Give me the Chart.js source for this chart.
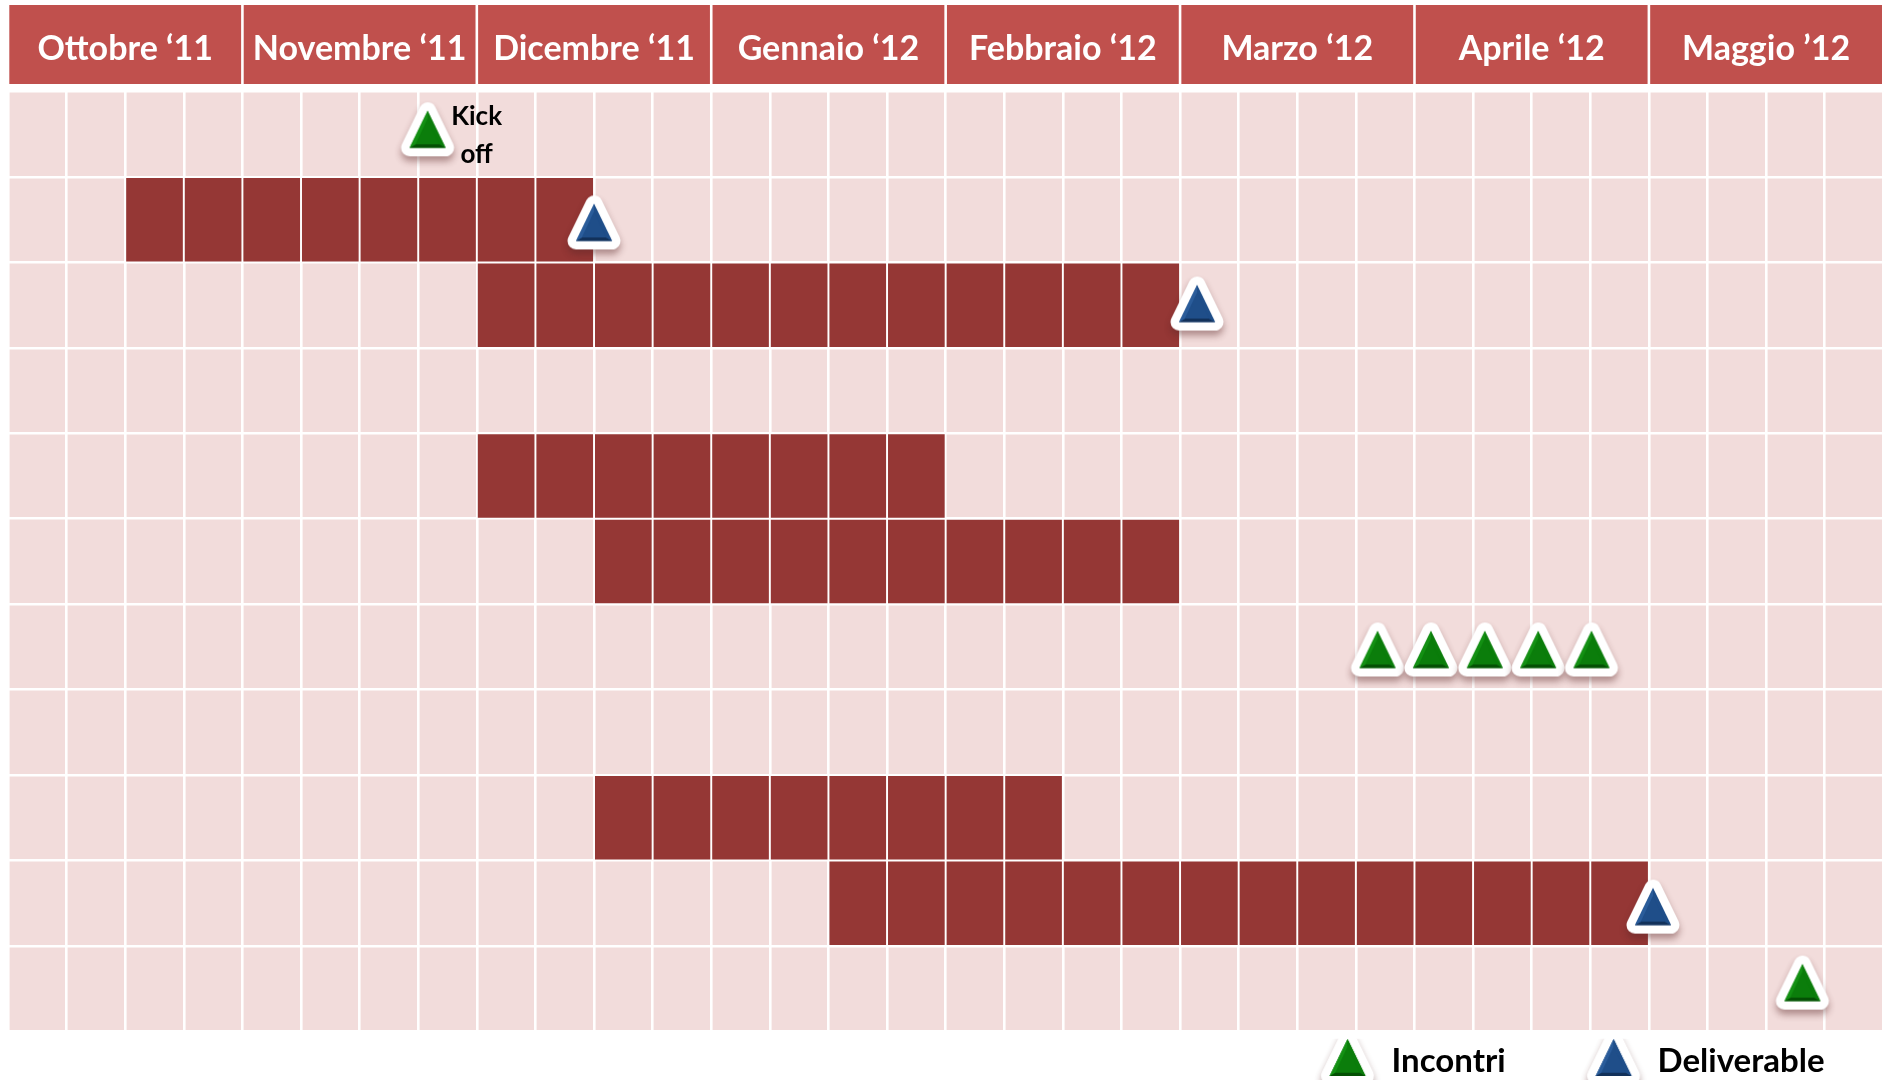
<!DOCTYPE html>
<html>
<head>
<meta charset="utf-8">
<title>Cronoprogramma</title>
<script src="https://cdn.jsdelivr.net/npm/chart.js@4.4.1/dist/chart.umd.min.js"></script>
<style>
  html, body { margin: 0; padding: 0; background: #fff; }
</style>
</head>
<body>
<canvas id="gantt" width="1885" height="1080"></canvas>
<script>
// header months, 4 weeks each
const monthLabels = ['Ottobre \u201811', 'Novembre \u201811', 'Dicembre \u201811', 'Gennaio \u201812',
                     'Febbraio \u201812', 'Marzo \u201812', 'Aprile \u201812', 'Maggio \u201912'];
const weeksPerMonth = 4;
const rowLabels = ['1', '2', '3', '4', '5', '6', '7', '8', '9', '10', '11'];

// activities: row, first week, week after the last one
const taskRow   = [1, 2, 4, 5, 8, 9];
const taskStart = [2, 8, 8, 10, 10, 14];
const taskEnd   = [10, 20, 16, 20, 18, 28];

// milestones (x = week, y = row)
const meetWeek  = [7.16, 23.37, 24.28, 25.2, 26.11, 27.02, 30.62];
const meetRow   = [-0.06, 6.03, 6.03, 6.03, 6.03, 6.03, 9.93];
const delivWeek = [10.0, 20.29, 28.07];
const delivRow  = [1.03, 1.98, 9.04];

const kickoffText = ['Kick', 'off'];

// triangle marker with white rim, shadow and a little bevel
function makeIcon(main, dark, light, w, shiftX, shiftY) {
    const c = document.createElement('canvas');
    c.width = w; c.height = 84;
    const g = c.getContext('2d');
    const cx = w / 2 + shiftX, cy = 42 + shiftY;
    const hw = 18, hh = 18.5;
    const tri = (a, b, d) => { g.beginPath(); g.moveTo(a[0], a[1]); g.lineTo(b[0], b[1]); g.lineTo(d[0], d[1]); g.closePath(); };
    const A = [cx, cy - hh], R = [cx + hw, cy + hh], L = [cx - hw, cy + hh];
    g.save();
    g.shadowColor = 'rgba(90,40,40,0.45)';
    g.shadowBlur = 7;
    g.shadowOffsetY = 5;
    g.lineJoin = 'round';
    g.lineWidth = 17;
    g.strokeStyle = '#fff';
    tri(A, R, L); g.stroke();
    g.restore();
    g.fillStyle = '#fff'; tri(A, R, L); g.fill();
    g.fillStyle = main; tri(A, R, L); g.fill();
    // bevel facets
    const iA = [cx, cy - hh + 8], iR = [cx + hw - 6, cy + hh - 3.5], iL = [cx - hw + 6, cy + hh - 3.5];
    const quad = (p, q, r, s, col) => { g.fillStyle = col; g.beginPath(); g.moveTo(p[0], p[1]); g.lineTo(q[0], q[1]); g.lineTo(r[0], r[1]); g.lineTo(s[0], s[1]); g.closePath(); g.fill(); };
    quad(L, R, iR, iL, dark);
    quad(A, L, iL, iA, light);
    quad(A, R, iR, iA, main);
    g.fillStyle = main; tri(iA, iR, iL); g.fill();
    return c;
}

const greenIcon = makeIcon('#0b7d0b', '#045004', '#139013', 84, 0, 0);
const blueIcon = makeIcon('#1f4e89', '#12315a', '#2a5c9a', 84, 0, 0);
const greenKey = makeIcon('#0b7d0b', '#045004', '#139013', 160, 37.4, -3.5);
const blueKey = makeIcon('#1f4e89', '#12315a', '#2a5c9a', 160, 37.4, -3.5);
const legendIcons = [null, greenKey, blueKey];

// one bar per week so every cell keeps its white frame
const cells = [];
taskRow.forEach((r, i) => {
    for (let w = taskStart[i]; w < taskEnd[i]; w++) {
        cells.push({ y: rowLabels[r], x: [w, w + 1] });
    }
});

const sheet = {
    id: 'sheet',
    beforeDraw(chart) {
        const { ctx, chartArea: a, scales: { x } } = chart;
        ctx.save();
        ctx.fillStyle = '#F2DCDB';
        ctx.fillRect(a.left, a.top, a.width, a.height);
        ctx.fillStyle = '#C0504D';
        monthLabels.forEach((m, i) => {
            const l = x.getPixelForValue(i * weeksPerMonth) + 1.3;
            const r = x.getPixelForValue((i + 1) * weeksPerMonth) - 1.3;
            ctx.fillRect(l, x.top, r - l, x.bottom - x.top - 7.7);
        });
        ctx.restore();
    }
};

const kickoffLabel = {
    id: 'kickoffLabel',
    afterDatasetsDraw(chart) {
        const pt = chart.getDatasetMeta(1).data[0];
        const ctx = chart.ctx;
        ctx.save();
        ctx.font = 'bold 26px Lato';
        ctx.fillStyle = '#000';
        ctx.textAlign = 'center';
        ctx.fillText(kickoffText[0], pt.x + 49, pt.y - 12.5);
        ctx.fillText(kickoffText[1], pt.x + 49, pt.y + 25.5);
        ctx.restore();
    }
};

// pull the legend a bit in from the right edge and down
const legendNudge = {
    id: 'legendNudge',
    afterLayout(chart) {
        chart.legend.right -= 53;
        chart.legend.top += 7.5;
    }
};

new Chart(document.getElementById('gantt'), {
    type: 'bar',
    data: {
        datasets: [{
            type: 'bar',
            label: 'Attività',
            data: cells,
            indexAxis: 'y',
            xAxisID: 'x',
            yAxisID: 'y',
            backgroundColor: '#953735',
            borderColor: '#fff',
            borderWidth: 1.3,
            borderSkipped: false,
            categoryPercentage: 1,
            barPercentage: 1,
            order: 2
        }, {
            type: 'scatter',
            label: 'Incontri',
            data: meetWeek.map((w, i) => ({ x: w, y: meetRow[i] })),
            xAxisID: 'x',
            yAxisID: 'yM',
            pointStyle: greenIcon,
            pointRadius: 20,
            order: 0
        }, {
            type: 'scatter',
            label: 'Deliverable',
            data: delivWeek.map((w, i) => ({ x: w, y: delivRow[i] })),
            xAxisID: 'x',
            yAxisID: 'yM',
            pointStyle: blueIcon,
            pointRadius: 20,
            order: 0
        }]
    },
    options: {
        responsive: false,
        animation: false,
        events: [],
        layout: { autoPadding: false, padding: { left: 8, right: 1.7, top: 5, bottom: 0 } },
        scales: {
            x: {
                type: 'linear',
                position: 'top',
                offset: false,
                min: 0,
                max: monthLabels.length * weeksPerMonth,
                afterFit: s => { s.height = 86.7; },
                ticks: {
                    stepSize: 1,
                    autoSkip: false,
                    maxRotation: 0,
                    minRotation: 0,
                    padding: 0,
                    color: '#fff',
                    // tall line box puts the month names in the middle of the header cells
                    font: { family: 'Lato', weight: 'bold', size: 34, lineHeight: 2.51 },
                    callback: v => v % weeksPerMonth === weeksPerMonth / 2 ? monthLabels[(v - weeksPerMonth / 2) / weeksPerMonth] : ''
                },
                grid: { offset: false, color: '#fff', lineWidth: 2.6, drawTicks: false },
                border: { display: false }
            },
            y: {
                type: 'category',
                labels: rowLabels,
                offset: true,
                ticks: { display: false },
                grid: { offset: true, color: '#fff', lineWidth: 2.6, drawTicks: false },
                border: { display: false }
            },
            yM: {
                type: 'linear',
                display: false,
                min: -0.5,
                max: rowLabels.length - 0.5,
                reverse: true
            }
        },
        plugins: {
            tooltip: { enabled: false },
            legend: {
                position: 'bottom',
                align: 'end',
                labels: {
                    usePointStyle: true,
                    pointStyleWidth: 129.8,
                    padding: 5.7,
                    color: '#000',
                    font: { family: 'Lato', weight: 'bold', size: 33 },
                    generateLabels(chart) {
                        const items = Chart.defaults.plugins.legend.labels.generateLabels(chart);
                        return items.filter(it => it.datasetIndex > 0).map(it => {
                            it.pointStyle = legendIcons[it.datasetIndex];
                            return it;
                        });
                    }
                }
            }
        }
    },
    plugins: [sheet, kickoffLabel, legendNudge]
});
</script>
</body>
</html>
